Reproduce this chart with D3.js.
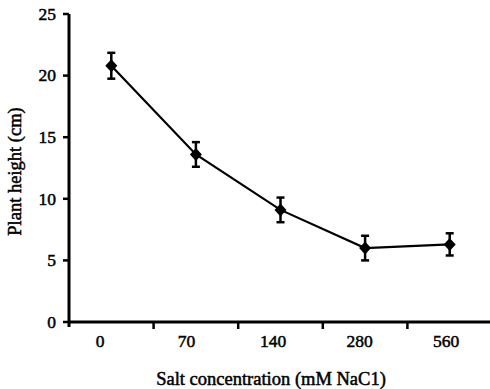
<!DOCTYPE html>
<html><head><meta charset="utf-8">
<script src="https://cdn.jsdelivr.net/npm/d3@7"></script>
<style>
body{margin:0;background:#fff;}
text{font-family:"Liberation Serif","Times New Roman",serif;fill:#000;stroke:#000;stroke-width:0.5px;}
</style></head>
<body>
<svg id="chart" width="490" height="389"></svg>
<script>
const categories = ["0","70","140","280","560"];
const heights = [20.8, 13.6, 9.1, 6.0, 6.3];
const errors = [1.05, 1.0, 1.0, 1.0, 0.9];
const yTicks = [0,5,10,15,20,25];
const xTitle = "Salt concentration (mM NaC1)";
const yTitle = "Plant height (cm)";

const svg = d3.select("#chart");
const x = d3.scaleBand().domain(categories).range([69, 492]).padding(0);
const xLab = d3.scalePoint().domain(categories).range([100, 446]);
const y = d3.scaleLinear().domain([0,25]).range([322, 14]);

// y axis
svg.append("line").attr("x1",69).attr("x2",69).attr("y1",y(25)).attr("y2",y(0)+5)
  .attr("stroke","#000").attr("stroke-width",3);
svg.selectAll(".yt").data(yTicks).enter().append("line")
  .attr("x1",63).attr("x2",69).attr("y1",d=>y(d)).attr("y2",d=>y(d))
  .attr("stroke","#000").attr("stroke-width",2.5);
svg.selectAll(".yl").data(yTicks).enter().append("text")
  .attr("x",56).attr("y",d=>y(d)).attr("dy","0.33em").attr("text-anchor","end")
  .attr("font-size",17.5).text(d=>d);

// x axis
svg.append("line").attr("x1",68).attr("x2",490).attr("y1",y(0)).attr("y2",y(0))
  .attr("stroke","#000").attr("stroke-width",3);
const bounds = categories.map(c=>x(c)).concat([x(categories[categories.length-1])+x.bandwidth()]);
svg.selectAll(".xt").data(bounds.slice(1)).enter().append("line")
  .attr("x1",d=>d).attr("x2",d=>d).attr("y1",y(0)).attr("y2",y(0)+7)
  .attr("stroke","#000").attr("stroke-width",2.5);
svg.selectAll(".xl").data(categories).enter().append("text")
  .attr("x",d=>xLab(d)).attr("y",347).attr("text-anchor","middle")
  .attr("font-size",17.5).text(d=>d);

// titles
svg.append("text").attr("x",271).attr("y",385).attr("text-anchor","middle")
  .attr("font-size",18.5).text(xTitle);
svg.append("text").attr("transform","translate(21,171.5) rotate(-90)")
  .attr("text-anchor","middle").attr("font-size",18.5).text(yTitle);

const cx = d => x(d) + x.bandwidth()/2;
const data = categories.map((c,i)=>({c, v:heights[i], e:errors[i]}));

// line
svg.append("path").datum(data)
  .attr("d", d3.line().x(d=>cx(d.c)).y(d=>y(d.v)))
  .attr("fill","none").attr("stroke","#000").attr("stroke-width",2.2);

// error bars
const eb = svg.selectAll(".eb").data(data).enter().append("g");
eb.append("line").attr("x1",d=>cx(d.c)).attr("x2",d=>cx(d.c))
  .attr("y1",d=>y(d.v+d.e)).attr("y2",d=>y(d.v-d.e)).attr("stroke","#000").attr("stroke-width",2.5);
eb.append("line").attr("x1",d=>cx(d.c)-4).attr("x2",d=>cx(d.c)+4)
  .attr("y1",d=>y(d.v+d.e)).attr("y2",d=>y(d.v+d.e)).attr("stroke","#000").attr("stroke-width",2.5);
eb.append("line").attr("x1",d=>cx(d.c)-4).attr("x2",d=>cx(d.c)+4)
  .attr("y1",d=>y(d.v-d.e)).attr("y2",d=>y(d.v-d.e)).attr("stroke","#000").attr("stroke-width",2.5);

// markers
svg.selectAll(".pt").data(data).enter().append("path")
  .attr("transform",d=>`translate(${cx(d.c)},${y(d.v)})`)
  .attr("d","M0,-6.5L6,0L0,6.5L-6,0Z").attr("fill","#000");
</script>
</body></html>
